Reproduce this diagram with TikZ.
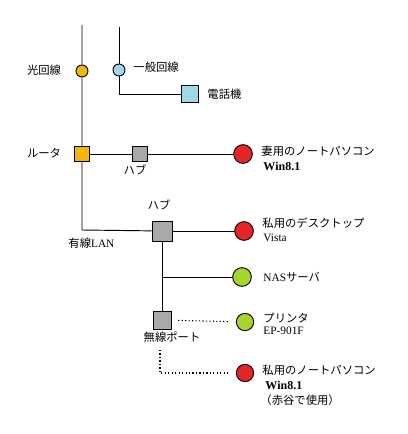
\documentclass[tikz,border=0pt]{standalone}
\usepackage{fontspec}
\setmainfont{Liberation Serif}
\newfontfamily\jp{Noto Sans CJK JP}
\definecolor{optic}{HTML}{F2B705}
\definecolor{phone}{HTML}{9ED8EA}
\definecolor{hubgray}{HTML}{A9A9A9}
\definecolor{pcred}{HTML}{E52629}
\definecolor{nasgreen}{HTML}{A5D62F}
\begin{document}
\begin{tikzpicture}[x=0.75pt,y=-0.75pt,line width=0.7pt,
  port/.style={draw,circle,inner sep=0pt,minimum size=9pt},
  box/.style={draw,rectangle,inner sep=0pt,minimum size=11pt},
  pc/.style={draw,circle,inner sep=0pt,minimum size=14pt},
  lbl/.style={inner sep=0pt,font=\fontsize{8.5}{10}\selectfont\jp},
  wireless/.style={dash pattern=on 0.9pt off 1.7pt,line width=0.8pt}]
\useasboundingbox (0,0) rectangle (407,434);
% lines coming in
\coordinate (top1) at (82,25);
\coordinate (top2) at (119,27);
\node[port,fill=optic] (optic) at (82,71) {};
\node[port,fill=phone] (line) at (119,70) {};
\coordinate (telturn) at (119,94);
\node[box,fill=phone,minimum size=13pt] (tel) at (190,94) {};
% router and first hub
\node[box,fill=optic] (router) at (82,154) {};
\node[box,fill=hubgray] (hub1) at (140,154) {};
\node[pc,fill=pcred] (wife) at (243,154) {};
% wired LAN
\coordinate (lanturn) at (82,230);
\node[box,fill=hubgray,minimum size=15pt] (hub2) at (162,231) {};
\node[pc,fill=pcred] (desk) at (244,231) {};
\coordinate (nasjoin) at (162,277);
\node[pc,fill=nasgreen] (nas) at (242,277) {};
% wireless
\node[box,fill=hubgray,minimum size=13.5pt] (wifi) at (162,320) {};
\node[pc,fill=nasgreen,minimum size=13pt] (printer) at (245,322) {};
\coordinate (wifidrop) at (160,350);
\coordinate (wifiturn) at (160,373);
\node[pc,fill=pcred,minimum size=13pt] (note) at (245,373) {};

\draw (top1) -- (optic) -- (router) -- (lanturn) -- (hub2);
\draw (top2) -- (line) -- (telturn) -- (tel);
\draw (router) -- (hub1) -- (wife);
\draw (hub2) -- (desk);
\draw (hub2) -- (wifi);
\draw (nasjoin) -- (nas);
\draw[wireless,shorten <=5pt,shorten >=5pt] (wifi) -- (printer);
\draw[wireless,shorten >=5pt] (wifidrop) -- (wifiturn) -- (note);

% labels
\node[lbl] (opticlbl) at (44,70) {光回線};
\node[lbl,anchor=west] (linelbl) at (133,67) {一般回線};
\node[lbl,anchor=west] (tellbl) at (207,94) {電話機};
\node[lbl] (routerlbl) at (44,153) {ルータ};
\node[lbl] (hub1lbl) at (135,170) {ハブ};
\node[lbl,anchor=west] (wifelbl) at (261,151) {妻用のノートパソコン};
\node[lbl,anchor=west,font=\fontsize{9}{10}\selectfont\bfseries] (wifeos) at (263,166) {Win8.1};
\node[lbl] (hub2lbl) at (159,205) {ハブ};
\node[lbl,anchor=west] (lanlbl) at (68,243) {有線\rmfamily LAN};
\node[lbl,anchor=west] (desklbl) at (262,223) {私用のデスクトップ};
\node[lbl,anchor=west,font=\fontsize{8.5}{10}\selectfont\rmfamily] (deskos) at (263,238) {Vista};
\node[lbl,anchor=west] (naslbl) at (263,277) {{\rmfamily NAS}サーバ};
\node[lbl,anchor=west] (printerlbl) at (263,318) {プリンタ};
\node[lbl,anchor=west,font=\fontsize{8.5}{10}\selectfont\rmfamily] (printermodel) at (263,331) {EP-901F};
\node[lbl] (wifilbl) at (172,337) {無線ポート};
\node[lbl,anchor=west] (notelbl) at (262,370) {私用のノートパソコン};
\node[lbl,anchor=west,font=\fontsize{9}{10}\selectfont\bfseries] (noteos) at (265,385) {Win8.1};
\node[lbl,anchor=west] (noteuse) at (260,400) {（赤谷で使用）};
\end{tikzpicture}
\end{document}
